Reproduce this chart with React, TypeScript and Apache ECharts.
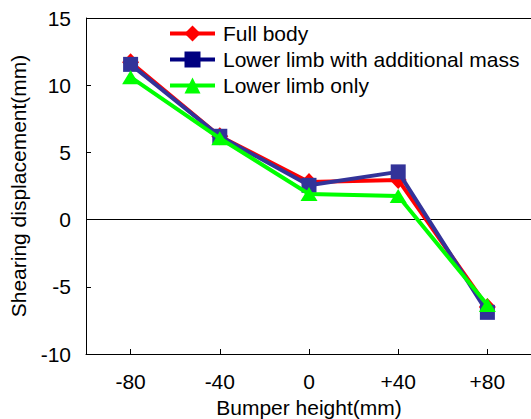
import React, { useEffect, useRef } from "react";
import * as echarts from "echarts";

// Bumper height offsets (mm)
const categories = ["-80", "-40", "0", "+40", "+80"];
// Shearing displacement (mm) per model
const fullBody = [11.7, 6.2, 2.8, 2.95, -6.5];
const limbWithMass = [11.55, 6.2, 2.55, 3.55, -6.9];
const limbOnly = [10.6, 6.05, 1.9, 1.75, -6.35];

const seriesNames = ["Full body", "Lower limb with additional mass", "Lower limb only"];
const yTicks = { min: -10, max: 15, interval: 5 };

const FONT = 'Arial, "Liberation Sans", sans-serif';
const FS = 21;

export default function App() {
  const ref = useRef<HTMLDivElement>(null);

  useEffect(() => {
    document.body.style.margin = "0";
    document.body.style.overflow = "hidden";
    document.documentElement.style.overflow = "hidden";
    if (!ref.current) return;
    const chart = echarts.init(ref.current, undefined, { renderer: "svg" });

    const lineSeries = (
      name: string,
      data: number[],
      color: string,
      symbol: string,
      symbolSize: number | number[],
      z: number
    ) => ({
      name,
      type: "line",
      data,
      symbol,
      symbolSize,
      z,
      lineStyle: { color, width: 4 },
      itemStyle: { color, opacity: 1 },
      emphasis: { disabled: true },
    });

    const legendItem = (name: string, color: string) => ({
      name,
      itemStyle: { color },
      lineStyle: { color, width: 4 },
    });

    chart.setOption({
      animation: false,
      textStyle: { fontFamily: FONT, color: "#000" },
      // the plot area runs past the right edge of the visible page, so it has no right side
      grid: {
        left: 86,
        top: 18,
        right: 4,
        bottom: 65,
        show: false,
        containLabel: false,
        outerBoundsMode: "none",
      },
      legend: {
        left: 168,
        top: 23,
        padding: 0,
        orient: "vertical",
        itemWidth: 45,
        itemHeight: 20,
        itemGap: 5,
        textStyle: { fontSize: FS, color: "#000", fontFamily: FONT, padding: [0, 0, 0, 3] },
        data: [
          legendItem(seriesNames[0], "#ff0000"),
          legendItem(seriesNames[1], "#000080"),
          legendItem(seriesNames[2], "#00ff00"),
        ],
      },
      xAxis: {
        type: "category",
        data: categories,
        boundaryGap: true,
        name: "Bumper height(mm)",
        nameLocation: "middle",
        nameGap: 36,
        nameTextStyle: { fontSize: FS, color: "#000", fontFamily: FONT },
        axisLine: { onZero: false, lineStyle: { color: "#000", width: 1 } },
        axisTick: { show: true, inside: true, length: 5, alignWithLabel: true, lineStyle: { color: "#000" } },
        axisLabel: { fontSize: FS, color: "#000", margin: 17, fontFamily: FONT },
        splitLine: { show: false },
        splitArea: { show: false },
      },
      yAxis: {
        type: "value",
        min: yTicks.min,
        max: yTicks.max,
        interval: yTicks.interval,
        name: "Shearing displacement(mm)",
        nameLocation: "middle",
        nameGap: 57,
        nameTextStyle: { fontSize: FS, color: "#000", fontFamily: FONT },
        axisLine: { show: true, onZero: false, lineStyle: { color: "#000", width: 1 } },
        axisTick: { show: true, inside: true, length: 5, lineStyle: { color: "#000" } },
        axisLabel: { fontSize: FS, color: "#000", margin: 15, fontFamily: FONT },
        splitLine: { show: false },
        splitArea: { show: false },
      },
      series: [
        {
          ...lineSeries(seriesNames[0], fullBody, "#ff0000", "diamond", [17, 18], 2),
          // zero reference line and the top edge of the plot frame
          markLine: {
            silent: true,
            symbol: "none",
            label: { show: false },
            lineStyle: { color: "#000", width: 1, type: "solid" },
            data: [{ yAxis: 0 }, { yAxis: yTicks.max }],
            z: 1,
          },
        },
        lineSeries(seriesNames[1], limbWithMass, "#333399", "rect", 15, 3),
        lineSeries(seriesNames[2], limbOnly, "#00ff00", "triangle", [17, 14], 4),
      ],
    });

    return () => chart.dispose();
  }, []);

  return <div ref={ref} style={{ width: 536, height: 419 }} />;
}
